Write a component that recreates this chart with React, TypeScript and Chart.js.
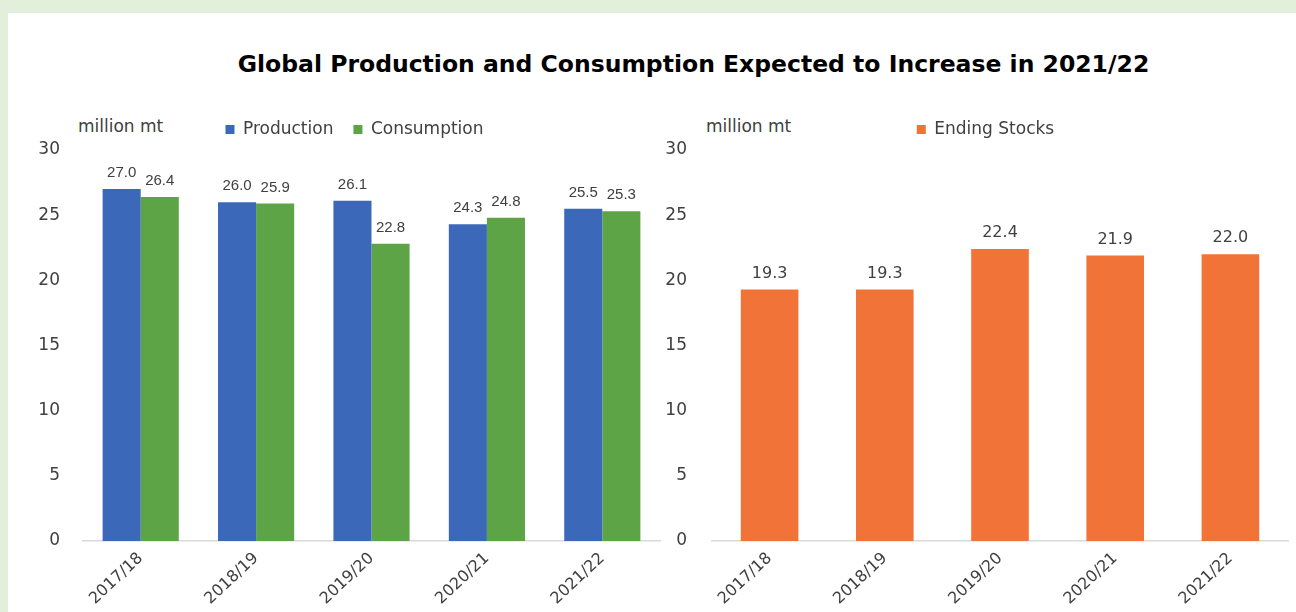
import React, { useEffect, useRef } from "react";
import { Chart, registerables } from "chart.js";

Chart.register(...registerables);

const seasons = ["2017/18", "2018/19", "2019/20", "2020/21", "2021/22"];
const production = [27.0, 26.0, 26.1, 24.3, 25.5];
const consumption = [26.4, 25.9, 22.8, 24.8, 25.3];
const endingStocks = [19.3, 19.3, 22.4, 21.9, 22.0];
const yTicks = [0, 5, 10, 15, 20, 25, 30];
const titleText = "Global Production and Consumption Expected to Increase in 2021/22";
const unitLabel = "million mt";

const BLUE = "#3b68b9";
const GREEN = "#5ca446";
const ORANGE = "#f27337";
const TEXT = "#404040";
const FONT = "'DejaVu Sans', sans-serif";

const valueLabels = {
  id: "valueLabels",
  afterDatasetsDraw(chart: any, _args: any, opts: any) {
    const ctx = chart.ctx;
    ctx.save();
    ctx.font = opts.font;
    ctx.fillStyle = opts.color;
    ctx.textAlign = "center";
    ctx.textBaseline = "middle";
    chart.data.datasets.forEach((ds: any, i: number) => {
      const meta = chart.getDatasetMeta(i);
      meta.data.forEach((el: any, j: number) => {
        const v = ds.data[j];
        ctx.fillText(Number(v).toFixed(1), el.x, el.y - opts.offset);
      });
    });
    ctx.restore();
  },
};

const legendShift = {
  id: "legendShift",
  afterLayout(chart: any, _args: any, opts: any) {
    const lg = chart.legend;
    if (!lg) return;
    lg.left += opts.dx;
    lg.right += opts.dx;
    lg.top += opts.dy;
    lg.bottom += opts.dy;
  },
};

function makeOptions(cfg: {
  padRight: number;
  yWidth: number;
  yPad: number;
  dx: number;
  dy: number;
  labelFont: string;
}) {
  return {
    responsive: false,
    animation: false as const,
    devicePixelRatio: 1,
    layout: { padding: { left: 0, right: cfg.padRight, top: 13, bottom: 0 } },
    plugins: {
      legend: {
        display: true,
        position: "top" as const,
        labels: {
          color: TEXT,
          font: { family: FONT, size: 17 },
          boxWidth: 9,
          boxHeight: 9,
          padding: 20,
        },
      },
      tooltip: { enabled: false },
      valueLabels: { font: cfg.labelFont, color: TEXT, offset: 16 },
      legendShift: { dx: cfg.dx, dy: cfg.dy },
    },
    scales: {
      x: {
        grid: { display: false, drawTicks: false },
        border: { display: true, color: "#d9d9d9", width: 1.5 },
        ticks: {
          color: TEXT,
          font: { family: FONT, size: 16 },
          minRotation: 43,
          maxRotation: 43,
          autoSkip: false,
          padding: 8,
        },
        afterFit: (s: any) => {
          s.height = 71;
        },
      },
      y: {
        min: 0,
        max: 30,
        grid: { display: false },
        border: { display: false },
        ticks: {
          color: TEXT,
          font: { family: FONT, size: 17 },
          padding: cfg.yPad,
        },
        afterBuildTicks: (s: any) => {
          s.ticks = yTicks.map((v) => ({ value: v }));
        },
        afterFit: (s: any) => {
          s.width = cfg.yWidth;
        },
      },
    },
  };
}

function LeftChart() {
  const ref = useRef<HTMLCanvasElement>(null);
  useEffect(() => {
    const chart = new Chart(ref.current!, {
      type: "bar",
      data: {
        labels: seasons,
        datasets: [
          {
            label: "Production",
            data: production,
            backgroundColor: BLUE,
            categoryPercentage: 0.66,
            barPercentage: 1,
          },
          {
            label: "Consumption",
            data: consumption,
            backgroundColor: GREEN,
            categoryPercentage: 0.66,
            barPercentage: 1,
          },
        ],
      },
      options: makeOptions({
        padRight: 12,
        yWidth: 75,
        yPad: 15,
        dx: 20.5,
        dy: -2,
        labelFont: "15px 'Liberation Sans', sans-serif",
      }) as any,
      plugins: [valueLabels, legendShift],
    });
    return () => chart.destroy();
  }, []);
  return (
    <canvas
      ref={ref}
      width={664}
      height={522}
      style={{ position: "absolute", left: 8, top: 90, width: 664, height: 522 }}
    />
  );
}

function RightChart() {
  const ref = useRef<HTMLCanvasElement>(null);
  useEffect(() => {
    const chart = new Chart(ref.current!, {
      type: "bar",
      data: {
        labels: seasons,
        datasets: [
          {
            label: "Ending Stocks",
            data: endingStocks,
            backgroundColor: ORANGE,
            categoryPercentage: 0.5,
            barPercentage: 1,
          },
        ],
      },
      options: makeOptions({
        padRight: 8,
        yWidth: 52,
        yPad: 17,
        dx: 11.5,
        dy: -2,
        labelFont: "16px 'DejaVu Sans', sans-serif",
      }) as any,
      plugins: [valueLabels, legendShift],
    });
    return () => chart.destroy();
  }, []);
  return (
    <canvas
      ref={ref}
      width={636}
      height={522}
      style={{ position: "absolute", left: 660, top: 90, width: 636, height: 522 }}
    />
  );
}

export default function App() {
  return (
    <div
      style={{
        position: "fixed",
        left: 0,
        top: 0,
        width: 1296,
        height: 612,
        background: "#e2efda",
        overflow: "hidden",
      }}
    >
      <div
        style={{
          position: "absolute",
          left: 8,
          top: 13,
          right: 0,
          bottom: 0,
          background: "#ffffff",
        }}
      />
      <div
        style={{
          position: "absolute",
          left: 693.5,
          top: 50,
          transform: "translateX(-50%)",
          whiteSpace: "nowrap",
          fontFamily: FONT,
          fontWeight: "bold",
          fontSize: 23.5,
          lineHeight: "28px",
          color: "#000000",
        }}
      >
        {titleText}
      </div>
      <div
        style={{
          position: "absolute",
          left: 78,
          top: 116,
          fontFamily: FONT,
          fontSize: 17,
          lineHeight: "20px",
          color: TEXT,
          whiteSpace: "nowrap",
        }}
      >
        {unitLabel}
      </div>
      <div
        style={{
          position: "absolute",
          left: 706,
          top: 116,
          fontFamily: FONT,
          fontSize: 17,
          lineHeight: "20px",
          color: TEXT,
          whiteSpace: "nowrap",
        }}
      >
        {unitLabel}
      </div>
      <LeftChart />
      <RightChart />
    </div>
  );
}
